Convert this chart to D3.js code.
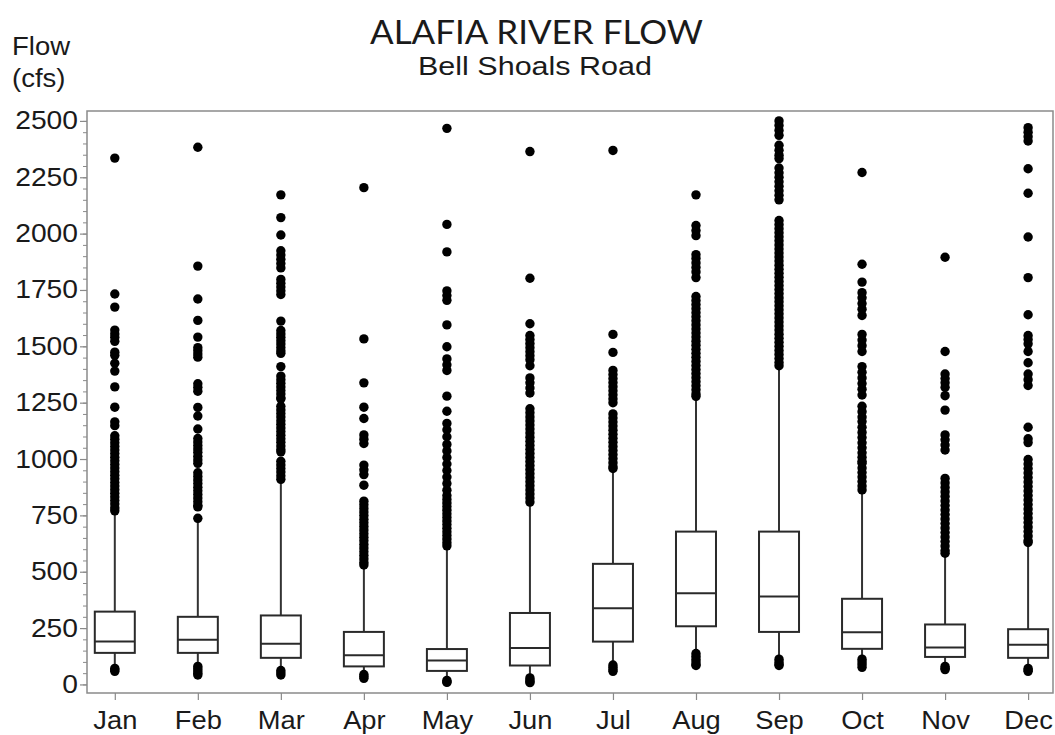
<!DOCTYPE html>
<html>
<head>
<meta charset="utf-8">
<script src="https://cdn.jsdelivr.net/npm/d3@7"></script>
<style>
  html, body { margin: 0; padding: 0; background: #fff; }
  svg { display: block; }
  text { font-family: "Liberation Sans", Arial, sans-serif; fill: #1a1a1a; }
</style>
</head>
<body>
<script>
// ---------------- DATA ----------------
const months = ["Jan","Feb","Mar","Apr","May","Jun","Jul","Aug","Sep","Oct","Nov","Dec"];
const q1     = [140, 140, 118,  80,  60,  84, 190, 258, 233, 158, 122, 118];
const median = [190, 198, 180, 130, 106, 162, 338, 405, 390, 232, 164, 176];
const q3     = [323, 300, 306, 233, 157, 317, 535, 678, 678, 380, 266, 245];
const whiskerHigh = [762, 721, 905, 527, 611, 804, 956, 1276, 1410, 855, 578, 628];

const lowOutliers = [
  [71, 65, 58],
  [80, 70, 60, 50, 42],
  [62, 52, 42],
  [44, 35, 27],
  [18, 12, 9],
  [29, 20, 12, 8],
  [86, 76, 66, 58],
  [137, 125, 112, 100, 88, 84],
  [112, 100, 90, 84],
  [112, 100, 88, 76],
  [80, 72, 66],
  [71, 64, 58]
];

const highOutliers = [
  // Jan
  [2335, 1732, 1674, 1572, 1555, 1540, 1522, 1474, 1460, 1425, 1390, 1320, 1230, 1165, 1148,
   1103, 1088, 1072, 1056, 1040, 1024, 1008, 992, 976, 960, 944, 928, 912, 896, 880, 864, 848,
   832, 816, 800, 784, 770],
  // Feb
  [2383, 1856, 1710, 1615, 1541, 1494, 1480, 1466, 1452, 1334, 1318, 1301, 1229, 1191, 1133,
   1091, 1075, 1060, 1045, 1030, 1012, 996, 981, 939, 923, 907, 891, 875, 859, 843, 827, 811,
   795, 788, 737],
  // Mar
  [2172, 2071, 1994, 1924, 1905, 1886, 1867, 1848, 1797, 1780, 1763, 1746, 1730, 1612, 1570,
   1555, 1540, 1525, 1510, 1495, 1480, 1469, 1410, 1368, 1352, 1336, 1320, 1304, 1288, 1272,
   1267, 1234, 1218, 1202, 1186, 1170, 1154, 1138, 1122, 1106, 1090, 1074, 1058, 1042, 1032,
   990, 974, 958, 942, 926, 910],
  // Apr
  [2204, 1533, 1338, 1230, 1180, 1107, 1088, 1069, 973, 952, 931, 884, 813, 797, 781, 765, 749,
   733, 717, 701, 685, 669, 653, 637, 621, 605, 589, 573, 557, 541, 530],
  // May
  [2467, 2041, 1919, 1746, 1725, 1704, 1595, 1498, 1444, 1418, 1393, 1279, 1212, 1158, 1130,
   1099, 1065, 1036, 1007, 978, 949, 920, 891, 862, 838, 821, 805, 789, 773, 757, 741, 725, 709,
   693, 677, 661, 645, 629, 615],
  // Jun
  [2364, 1802, 1600, 1548, 1530, 1512, 1494, 1476, 1458, 1440, 1414, 1360, 1338, 1315, 1293,
   1223, 1205, 1187, 1169, 1151, 1133, 1115, 1097, 1079, 1061, 1043, 1025, 1007, 989, 971, 953,
   935, 917, 899, 881, 863, 845, 827, 809],
  // Jul
  [2369, 1553, 1473, 1393, 1375, 1357, 1339, 1321, 1303, 1285, 1267, 1250, 1200, 1182, 1164,
   1146, 1128, 1110, 1092, 1074, 1056, 1038, 1020, 1002, 984, 966, 958],
  // Aug
  [2172, 2036, 2014, 1991, 1907, 1890, 1870, 1850, 1830, 1805, 1721, 1703, 1685, 1667, 1649,
   1631, 1613, 1595, 1577, 1559, 1541, 1523, 1505, 1487, 1469, 1451, 1433, 1415, 1397, 1379,
   1361, 1343, 1325, 1307, 1289, 1278],
  // Sep
  [2500, 2480, 2458, 2436, 2392, 2370, 2348, 2333, 2291, 2270, 2250, 2230, 2210, 2190, 2170,
   2150, 2058, 2040, 2022, 2004, 1986, 1968, 1950, 1932, 1914, 1896, 1878, 1860, 1842, 1824,
   1806, 1788, 1770, 1752, 1734, 1716, 1698, 1680, 1662, 1644, 1626, 1608, 1590, 1572, 1554,
   1536, 1518, 1500, 1482, 1464, 1446, 1428, 1414],
  // Oct
  [2271, 1864, 1785, 1738, 1715, 1690, 1665, 1637, 1553, 1528, 1503, 1477, 1410, 1385, 1360,
   1335, 1310, 1284, 1234, 1210, 1186, 1166, 1141, 1118, 1095, 1072, 1050, 1028, 1008, 990,
   981, 960, 940, 920, 900, 880, 863],
  // Nov
  [1895, 1477, 1377, 1357, 1338, 1318, 1281, 1217, 1107, 1085, 1062, 1040, 914, 894, 874, 854,
   834, 814, 794, 774, 754, 734, 714, 694, 674, 654, 634, 614, 594, 582],
  // Dec
  [2470, 2450, 2430, 2411, 2288, 2179, 1985, 1805, 1640, 1548, 1530, 1511, 1477, 1427, 1377,
   1352, 1326, 1141, 1090, 1073, 998, 978, 958, 938, 918, 898, 878, 858, 838, 818, 798, 778,
   758, 738, 718, 698, 678, 658, 638, 630]
];

const yMajorTicks = [0, 250, 500, 750, 1000, 1250, 1500, 1750, 2000, 2250, 2500];
const yMinorTicks = d3.range(0, 2501, 50);

const titleText = "ALAFIA RIVER FLOW";
const subtitleText = "Bell Shoals Road";
const yLabelLines = ["Flow", "(cfs)"];

// ---------------- LAYOUT ----------------
const W = 1055, H = 735;
const frame = { left: 87, right: 1053, top: 111, bottom: 693 };
const FONT = '"Liberation Sans", Arial, sans-serif';

const svg = d3.select("body").append("svg").attr("width", W).attr("height", H);

const x = d3.scalePoint().domain(months).range([114.8, 1028.1]);
const y = d3.scaleLinear().domain([-38, 2544]).range([frame.bottom, frame.top]);
const boxW = 40;

const data = months.map((m, i) => ({
  m, q1: q1[i], med: median[i], q3: q3[i], hi: whiskerHigh[i],
  lo: d3.max(lowOutliers[i]), lowO: lowOutliers[i], highO: highOutliers[i]
}));

// frame
svg.append("rect")
  .attr("x", frame.left).attr("y", frame.top)
  .attr("width", frame.right - frame.left).attr("height", frame.bottom - frame.top)
  .attr("fill", "none").attr("stroke", "#8a8a8a").attr("stroke-width", 1.5);

// y axis minor ticks
const yMinor = svg.append("g").attr("transform", `translate(${frame.left},0)`)
  .call(d3.axisLeft(y).tickValues(yMinorTicks).tickSize(4).tickFormat(""));
yMinor.select(".domain").remove();
yMinor.selectAll("line").attr("stroke", "#8a8a8a").attr("stroke-width", 1);

// y axis major ticks + labels
const yAx = svg.append("g").attr("transform", `translate(${frame.left},0)`)
  .call(d3.axisLeft(y).tickValues(yMajorTicks).tickSize(7).tickFormat(d3.format("d")));
yAx.select(".domain").remove();
yAx.selectAll("line").attr("stroke", "#8a8a8a").attr("stroke-width", 1.2);
yAx.selectAll("text").attr("font-size", 25).attr("fill", "#1a1a1a")
  .attr("x", 0).attr("transform", "translate(-9,0) scale(1.13,1)")
  .style("font-family", FONT);

// x axis
const xAx = svg.append("g").attr("transform", `translate(0,${frame.bottom})`)
  .call(d3.axisBottom(x).tickSize(7));
xAx.select(".domain").remove();
xAx.selectAll("line").attr("stroke", "#8a8a8a").attr("stroke-width", 1.2);
xAx.selectAll("text").attr("font-size", 26).attr("fill", "#1a1a1a")
  .attr("dy", null).attr("y", 0).attr("transform", "translate(0,36) scale(1.05,1)")
  .style("font-family", FONT);

// boxes
const g = svg.append("g");
const grp = g.selectAll("g.month").data(data).join("g").attr("class", "month");

grp.append("line")
  .attr("x1", d => x(d.m)).attr("x2", d => x(d.m))
  .attr("y1", d => y(d.q3)).attr("y2", d => y(d.hi))
  .attr("stroke", "#333").attr("stroke-width", 2);
grp.append("line")
  .attr("x1", d => x(d.m)).attr("x2", d => x(d.m))
  .attr("y1", d => y(d.q1)).attr("y2", d => y(d.lo))
  .attr("stroke", "#333").attr("stroke-width", 2);
grp.append("rect")
  .attr("x", d => x(d.m) - boxW / 2).attr("width", boxW)
  .attr("y", d => y(d.q3)).attr("height", d => y(d.q1) - y(d.q3))
  .attr("fill", "#fff").attr("stroke", "#2a2a2a").attr("stroke-width", 2);
grp.append("line")
  .attr("x1", d => x(d.m) - boxW / 2).attr("x2", d => x(d.m) + boxW / 2)
  .attr("y1", d => y(d.med)).attr("y2", d => y(d.med))
  .attr("stroke", "#2a2a2a").attr("stroke-width", 2);

grp.selectAll("circle.hi").data(d => d.highO.map(v => ({ m: d.m, v }))).join("circle")
  .attr("class", "hi").attr("cx", d => x(d.m)).attr("cy", d => y(d.v)).attr("r", 4.7)
  .attr("fill", "#000");
grp.selectAll("circle.lo").data(d => d.lowO.map(v => ({ m: d.m, v }))).join("circle")
  .attr("class", "lo").attr("cx", d => x(d.m)).attr("cy", d => y(d.v)).attr("r", 4.7)
  .attr("fill", "#000");

// titles
svg.append("text").text(titleText)
  .attr("x", 370).attr("y", 44)
  .attr("textLength", 333).attr("lengthAdjust", "spacingAndGlyphs")
  .attr("font-size", 32).style("font-family", "Lato, 'Open Sans', sans-serif")
  .attr("fill", "#111");
svg.append("text").text(subtitleText)
  .attr("x", 418).attr("y", 75)
  .attr("textLength", 234).attr("lengthAdjust", "spacingAndGlyphs")
  .attr("font-size", 26).attr("fill", "#1a1a1a");
svg.selectAll("text.ylab").data(yLabelLines).join("text").attr("class", "ylab")
  .text(d => d).attr("x", 0).attr("y", 0)
  .attr("transform", (d, i) => `translate(12,${55 + i * 32}) scale(1.1,1)`)
  .attr("font-size", 25).attr("fill", "#1a1a1a");
</script>
</body>
</html>
